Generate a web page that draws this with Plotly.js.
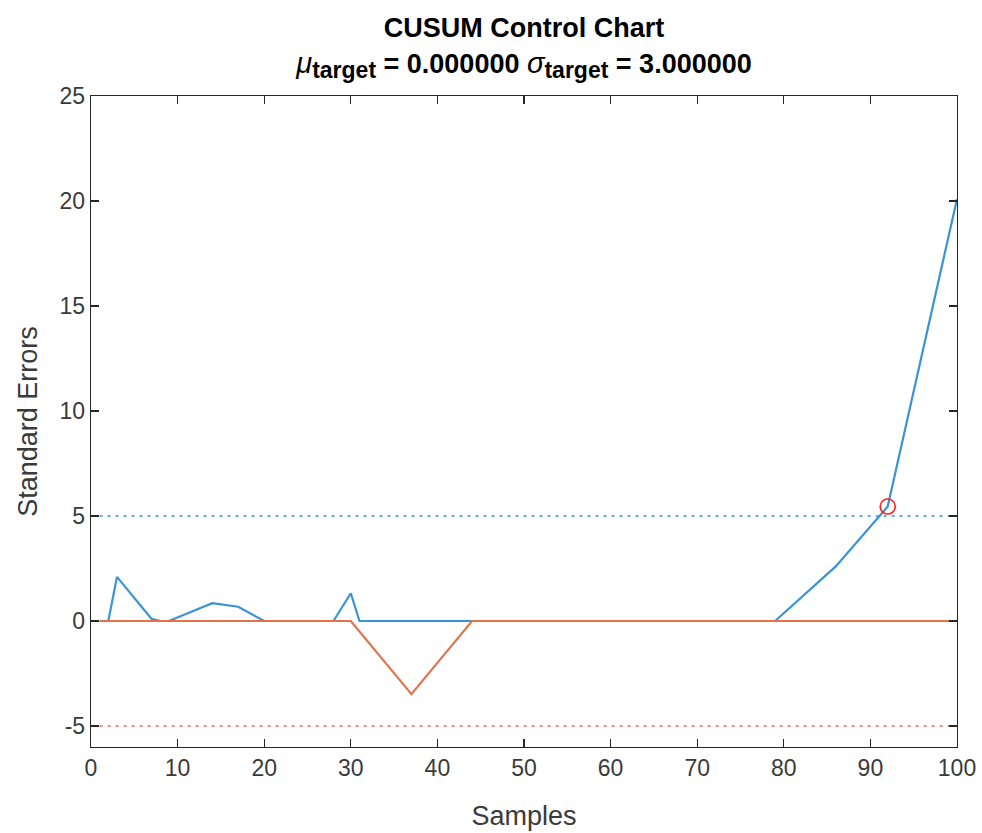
<!DOCTYPE html>
<html>
<head>
<meta charset="utf-8">
<script src="https://cdn.plot.ly/plotly-3.0.1.min.js"></script>
<style>html,body{margin:0;padding:0;background:#fff;}#chart{width:982px;height:833px;}</style>
</head>
<body>
<div id="chart"></div>
<script>
// Upper CUSUM (vertices)
const upperX = [1, 2, 3, 7, 8, 9, 14, 17, 20, 28, 30, 31, 79, 86, 92, 100];
const upperY = [0, 0, 2.1, 0.1, 0, 0, 0.85, 0.68, 0, 0, 1.32, 0, 0, 2.6, 5.45, 20.1];
// Lower CUSUM
const lowerX = [1, 30, 37, 44, 100];
const lowerY = [0, 0, -3.48, 0, 0];
// Control limits
const limitX = [1, 100];
const upperLimit = [5, 5];
const lowerLimit = [-5, -5];
// Out-of-control point
const alarmX = [92];
const alarmY = [5.45];
// Axis ticks
const xTicks = [0, 10, 20, 30, 40, 50, 60, 70, 80, 90, 100];
const yTicks = [-5, 0, 5, 10, 15, 20, 25];

const blue = '#3a93d4';
const orange = '#e2724a';
const axisColor = '#262626';

const traces = [
  {x: limitX, y: upperLimit, mode: 'lines', line: {color: blue, width: 1.3, dash: '3px,5px'}, hoverinfo: 'skip'},
  {x: limitX, y: lowerLimit, mode: 'lines', line: {color: orange, width: 1.3, dash: '3px,5px'}, hoverinfo: 'skip'},
  {x: upperX, y: upperY, mode: 'lines', line: {color: blue, width: 2.2}},
  {x: lowerX, y: lowerY, mode: 'lines', line: {color: orange, width: 2.2}},
  {x: alarmX, y: alarmY, mode: 'markers', marker: {symbol: 'circle-open', size: 15, color: '#ff2020', line: {width: 1.6, color: '#ff2020'}}}
];

const font = 'Liberation Sans, Arial, Helvetica, sans-serif';
const sub = '<sub><span style="font-size:23px">target</span></sub>';
const layout = {
  width: 982, height: 833,
  margin: {l: 91, r: 25, t: 96, b: 86, pad: 0},
  paper_bgcolor: '#ffffff', plot_bgcolor: '#ffffff',
  showlegend: false,
  font: {family: font, color: axisColor},
  title: {
    text: '<b>CUSUM Control Chart</b><br><span style="font-weight:normal;font-size:29px"><i>μ</i></span><b>' + sub + ' = 0.000000 </b><span style="font-weight:normal;font-size:29px"><i>σ</i></span><b>' + sub + ' = 3.000000</b>',
    font: {family: font, size: 27, color: '#000000'},
    x: 0.5, xref: 'paper', xanchor: 'center',
    y: 0.955, yref: 'container', yanchor: 'top'
  },
  xaxis: {
    range: [0, 100], tickmode: 'array', tickvals: xTicks, ticktext: xTicks.map(String),
    ticks: 'inside', ticklen: 8, tickwidth: 1.2, tickcolor: axisColor,
    showline: true, linecolor: axisColor, linewidth: 1.3, mirror: 'ticks',
    showgrid: false, zeroline: false,
    tickfont: {family: font, size: 23, color: '#3a3a3a'},
    title: {text: 'Samples', font: {family: font, size: 27, color: '#3a3a3a'}, standoff: 26}
  },
  yaxis: {
    range: [-6, 25], tickmode: 'array', tickvals: yTicks, ticktext: yTicks.map(String),
    ticks: 'inside', ticklen: 8, tickwidth: 1.2, tickcolor: axisColor,
    showline: true, linecolor: axisColor, linewidth: 1.3, mirror: 'ticks',
    showgrid: false, zeroline: false,
    tickfont: {family: font, size: 23, color: '#3a3a3a'},
    title: {text: 'Standard Errors', font: {family: font, size: 27, color: '#3a3a3a'}, standoff: 14}
  }
};

Plotly.newPlot('chart', traces, layout, {displayModeBar: false, staticPlot: true});
</script>
</body>
</html>
